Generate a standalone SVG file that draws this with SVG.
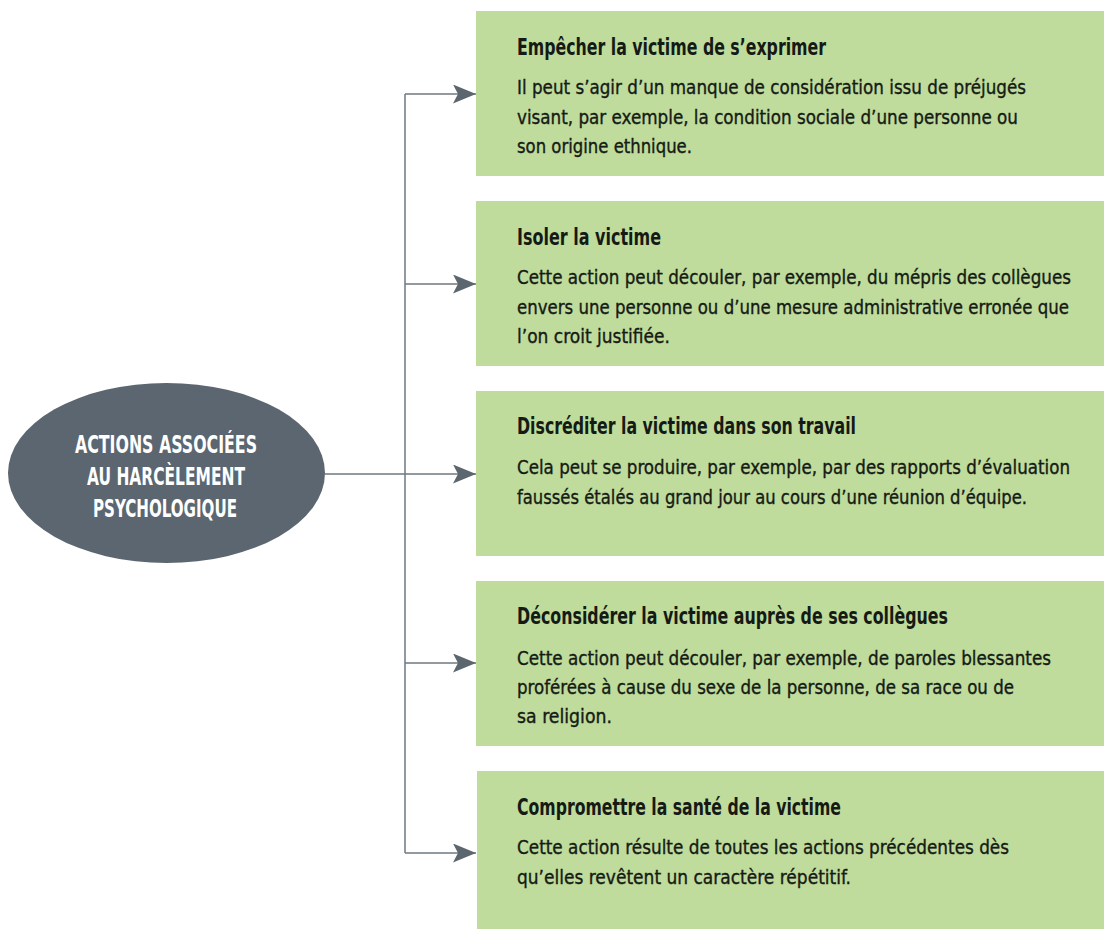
<svg xmlns="http://www.w3.org/2000/svg" width="1104" height="929" viewBox="0 0 1104 929">
<style>
.box{fill:#bfdc9c}
.t{font-family:"DejaVu Sans Condensed","DejaVu Sans","Liberation Sans",sans-serif;font-stretch:condensed;font-weight:bold;font-size:23px;fill:#151a14}
.b{font-family:"DejaVu Sans Condensed","DejaVu Sans","Liberation Sans",sans-serif;font-stretch:condensed;font-size:19.5px;fill:#151a14;stroke:#151a14;stroke-width:0.35}
.e{font-family:"DejaVu Sans Condensed","DejaVu Sans","Liberation Sans",sans-serif;font-stretch:condensed;font-weight:bold;font-size:24px;fill:#ffffff;text-anchor:middle}
.c{fill:none;stroke:#6e7980;stroke-width:1.5}
</style>
<defs>
<marker id="ah" markerUnits="userSpaceOnUse" markerWidth="24" markerHeight="20" refX="23" refY="9.5" orient="auto">
<path d="M0,0 L23,9.5 L0,19 L5,9.5 Z" fill="#5b666e"/>
</marker>
</defs>
<rect width="1104" height="929" fill="#ffffff"/>
<g id="connectors">
<path class="c" d="M405,94 V853"/>
<path class="c" d="M405,94 H476" marker-end="url(#ah)"/>
<path class="c" d="M405,284 H476" marker-end="url(#ah)"/>
<path class="c" d="M325,474 H476" marker-end="url(#ah)"/>
<path class="c" d="M405,663 H476" marker-end="url(#ah)"/>
<path class="c" d="M405,853 H476" marker-end="url(#ah)"/>
</g>
<g id="center">
<ellipse cx="166.5" cy="473" rx="158.5" ry="90" fill="#5b6670"/>
<text class="e" x="166" y="453" textLength="182" lengthAdjust="spacingAndGlyphs">ACTIONS ASSOCIÉES</text>
<text class="e" x="166" y="485" textLength="158" lengthAdjust="spacingAndGlyphs">AU HARCÈLEMENT</text>
<text class="e" x="165" y="517" textLength="144" lengthAdjust="spacingAndGlyphs">PSYCHOLOGIQUE</text>
</g>
<g id="box1">
<rect class="box" x="476" y="11" width="628" height="165"/>
<text class="t" x="517" y="55" textLength="309" lengthAdjust="spacingAndGlyphs">Empêcher la victime de s’exprimer</text>
<text class="b" x="517" y="94" textLength="509" lengthAdjust="spacingAndGlyphs">Il peut s’agir d’un manque de considération issu de préjugés</text>
<text class="b" x="517" y="123.5" textLength="501" lengthAdjust="spacingAndGlyphs">visant, par exemple, la condition sociale d’une personne ou</text>
<text class="b" x="517" y="153" textLength="175" lengthAdjust="spacingAndGlyphs">son origine ethnique.</text>
</g>
<g id="box2">
<rect class="box" x="476" y="201" width="628" height="165"/>
<text class="t" x="517" y="245" textLength="144" lengthAdjust="spacingAndGlyphs">Isoler la victime</text>
<text class="b" x="517" y="284" textLength="554" lengthAdjust="spacingAndGlyphs">Cette action peut découler, par exemple, du mépris des collègues</text>
<text class="b" x="517" y="313.5" textLength="552" lengthAdjust="spacingAndGlyphs">envers une personne ou d’une mesure administrative erronée que</text>
<text class="b" x="517" y="343" textLength="153" lengthAdjust="spacingAndGlyphs">l’on croit justifiée.</text>
</g>
<g id="box3">
<rect class="box" x="476" y="391" width="628" height="165"/>
<text class="t" x="517" y="434" textLength="339" lengthAdjust="spacingAndGlyphs">Discréditer la victime dans son travail</text>
<text class="b" x="517" y="474" textLength="553" lengthAdjust="spacingAndGlyphs">Cela peut se produire, par exemple, par des rapports d’évaluation</text>
<text class="b" x="517" y="503.5" textLength="510" lengthAdjust="spacingAndGlyphs">faussés étalés au grand jour au cours d’une réunion d’équipe.</text>
</g>
<g id="box4">
<rect class="box" x="476" y="581" width="628" height="165"/>
<text class="t" x="517" y="624" textLength="431" lengthAdjust="spacingAndGlyphs">Déconsidérer la victime auprès de ses collègues</text>
<text class="b" x="517" y="664.5" textLength="534" lengthAdjust="spacingAndGlyphs">Cette action peut découler, par exemple, de paroles blessantes</text>
<text class="b" x="517" y="693.5" textLength="497" lengthAdjust="spacingAndGlyphs">proférées à cause du sexe de la personne, de sa race ou de</text>
<text class="b" x="517" y="722.5" textLength="95" lengthAdjust="spacingAndGlyphs">sa religion.</text>
</g>
<g id="box5">
<rect class="box" x="477" y="771" width="627" height="165"/>
<text class="t" x="517" y="815" textLength="324" lengthAdjust="spacingAndGlyphs">Compromettre la santé de la victime</text>
<text class="b" x="517" y="854" textLength="492" lengthAdjust="spacingAndGlyphs">Cette action résulte de toutes les actions précédentes dès</text>
<text class="b" x="517" y="884" textLength="334" lengthAdjust="spacingAndGlyphs">qu’elles revêtent un caractère répétitif.</text>
</g>
</svg>
